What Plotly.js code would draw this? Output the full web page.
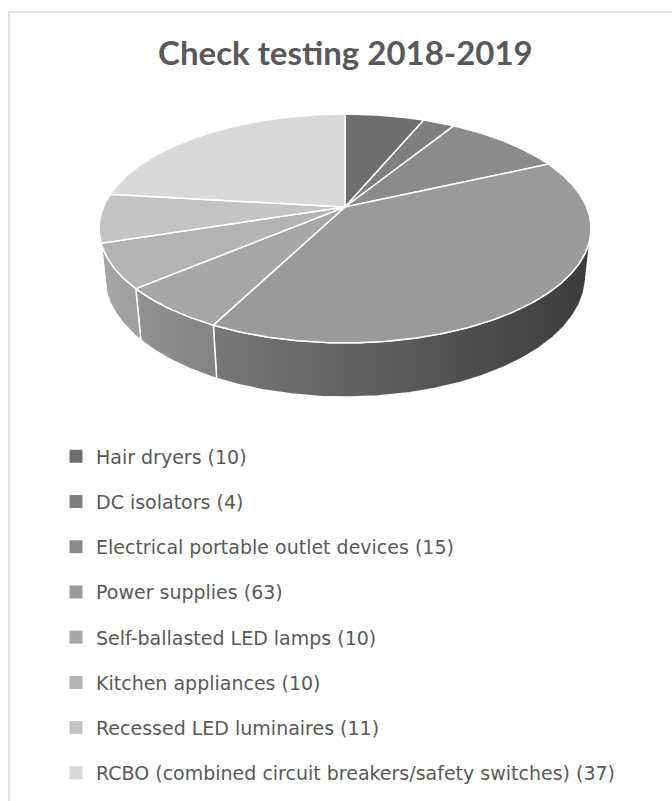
<!DOCTYPE html>
<html>
<head>
<meta charset="utf-8">
<script src="https://cdn.plot.ly/plotly-3.0.1.min.js"></script>
<style>html,body{margin:0;padding:0;background:#fff;}#chart{width:672px;height:801px;}</style>
</head>
<body>
<div id="chart"></div>
<script>
// ---- data ----
const chartTitle = 'Check testing 2018-2019';
const categories = [
  'Hair dryers',
  'DC isolators',
  'Electrical portable outlet devices',
  'Power supplies',
  'Self-ballasted LED lamps',
  'Kitchen appliances',
  'Recessed LED luminaires',
  'RCBO (combined circuit breakers/safety switches)'
];
const counts = [10, 4, 15, 63, 10, 10, 11, 37];
const sliceColors = ['#6e6e6e', '#7f7f7f', '#8b8b8b', '#9a9a9a', '#a7a7a7', '#b3b3b3', '#c4c4c4', '#d9d9d9'];

// ---- 3D pie view (style) ----
const view = {cx: 345, cy: 207, b: 241.6, sinA: 0.457, cosA: 0.889, D: 4.74, h: 0.224};
function project(theta, Y) {
  const X = Math.sin(theta), Z = -Math.cos(theta);
  const depth = 1 - (Y * view.sinA + Z * view.cosA) / view.D;
  const up = Y * view.cosA - Z * view.sinA;
  return [view.cx + view.b * X / depth, view.cy - view.b * up / depth];
}
function hexToV(c) { return parseInt(c.slice(1, 3), 16); }
function grey(v) { v = Math.max(0, Math.min(255, Math.round(v))); return 'rgb(' + v + ',' + v + ',' + v + ')'; }
const shadePts = [[98, 0.93], [215, 0.78], [390, 0.55], [590, 0.38]];
function shade(x) {
  if (x <= shadePts[0][0]) return shadePts[0][1];
  for (let i = 1; i < shadePts.length; i++) {
    if (x <= shadePts[i][0]) {
      const [x0, f0] = shadePts[i - 1], [x1, f1] = shadePts[i];
      return f0 + (f1 - f0) * (x - x0) / (x1 - x0);
    }
  }
  return shadePts[shadePts.length - 1][1];
}

const total = counts.reduce((a, b) => a + b, 0);
const starts = [], ends = [];
let acc = 0;
counts.forEach(v => { starts.push(acc / total * 2 * Math.PI); acc += v; ends.push(acc / total * 2 * Math.PI); });

const Zc = view.D * view.cosA;
const tRight = Math.acos(-1 / Zc), tLeft = 2 * Math.PI - tRight;

const traces = [];
const step = Math.PI / 360;
// side walls (front half only)
categories.forEach((cat, i) => {
  const t1 = Math.max(starts[i], tRight), t2 = Math.min(ends[i], tLeft);
  if (t2 <= t1) return;
  const top = [], bot = [];
  const n = Math.max(2, Math.ceil((t2 - t1) / step));
  for (let k = 0; k <= n; k++) {
    const t = t1 + (t2 - t1) * k / n;
    top.push(project(t, 0));
    bot.push(project(t, -view.h));
  }
  const pts = top.concat(bot.reverse());
  pts.push(pts[0]);
  const xs = pts.map(p => p[0]), ys = pts.map(p => p[1]);
  const xmin = Math.min(...xs), xmax = Math.max(...xs);
  const base = hexToV(sliceColors[i]);
  traces.push({
    type: 'scatter', mode: 'lines', x: xs, y: ys, fill: 'toself',
    fillcolor: grey(base * shade((xmin + xmax) / 2)),
    fillgradient: {type: 'horizontal', start: xmin, stop: xmax,
      colorscale: [[0, grey(base * shade(xmin))], [1, grey(base * shade(xmax))]]},
    line: {color: 'rgba(255,255,255,0.95)', width: 1.5},
    showlegend: false, hoverinfo: 'skip'
  });
});
// top faces
categories.forEach((cat, i) => {
  const pts = [[view.cx, view.cy]];
  const n = Math.max(2, Math.ceil((ends[i] - starts[i]) / step));
  for (let k = 0; k <= n; k++) pts.push(project(starts[i] + (ends[i] - starts[i]) * k / n, 0));
  pts.push(pts[0]);
  traces.push({
    type: 'scatter', mode: 'lines', x: pts.map(p => p[0]), y: pts.map(p => p[1]),
    fill: 'toself', fillcolor: sliceColors[i],
    line: {color: '#ffffff', width: 1.5},
    showlegend: false, hoverinfo: 'skip'
  });
});
// legend entries
categories.forEach((cat, i) => {
  traces.push({
    type: 'scatter', mode: 'markers', x: [null], y: [null],
    name: cat + ' (' + counts[i] + ')',
    legendgroup: 'g' + i,
    marker: {symbol: 'square', size: 13, color: sliceColors[i]},
    showlegend: true, hoverinfo: 'skip'
  });
});

const layout = {
  width: 672, height: 801,
  margin: {l: 0, r: 0, t: 0, b: 0},
  paper_bgcolor: '#ffffff', plot_bgcolor: '#ffffff',
  hovermode: false,
  title: {
    text: '<b>' + chartTitle + '</b>',
    font: {family: 'Lato, "Open Sans", sans-serif', size: 33, color: '#595959'},
    x: 0.514, xanchor: 'center', y: 1 - 53.5 / 801, yanchor: 'middle', yref: 'container'
  },
  xaxis: {range: [0, 672], visible: false, fixedrange: true},
  yaxis: {range: [801, 0], visible: false, fixedrange: true},
  showlegend: true,
  legend: {
    x: 56 / 672, xanchor: 'left', y: 1 - 437.5 / 801, yanchor: 'top',
    traceorder: 'grouped', tracegroupgap: 17.5,
    font: {family: '"DejaVu Sans", sans-serif', size: 19, color: '#595959'},
    bgcolor: 'rgba(0,0,0,0)', itemclick: false, itemdoubleclick: false
  },
  shapes: [{
    type: 'rect', xref: 'x', yref: 'y', x0: 9, y0: 12, x1: 690, y1: 820,
    line: {color: '#d9d9d9', width: 1.5}, fillcolor: 'rgba(0,0,0,0)', layer: 'below'
  }]
};

Plotly.newPlot('chart', traces, layout, {staticPlot: true, displayModeBar: false});
</script>
</body>
</html>
